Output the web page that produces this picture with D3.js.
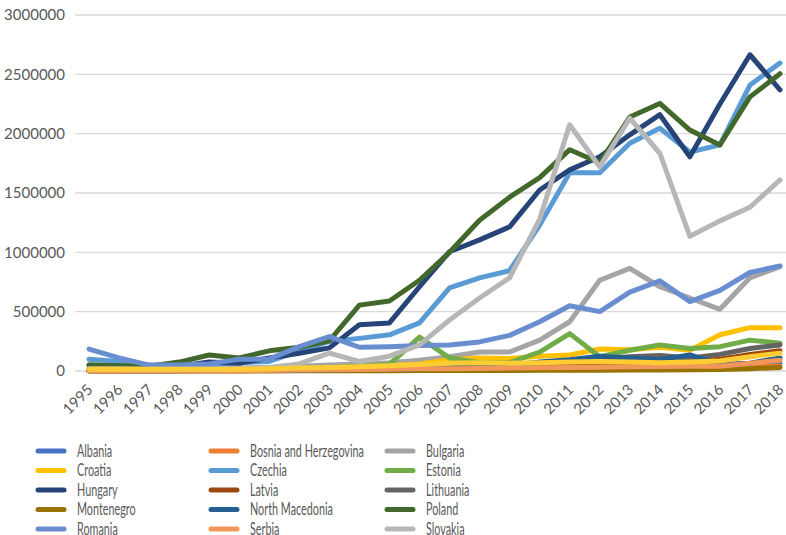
<!DOCTYPE html>
<html>
<head>
<meta charset="utf-8">
<script src="https://cdn.jsdelivr.net/npm/d3@7"></script>
<style>
  body { margin: 0; background: #fff; }
  svg { display: block; font-family: Lato, "Open Sans", sans-serif; }
  .tick-label { fill: #595959; font-size: 15px; }
  .legend-label { fill: #595959; font-size: 17px; }
</style>
</head>
<body>
<svg width="786" height="535"></svg>
<script>
// years on the category axis
const years = d3.range(1995, 2019).map(String)

// series values
const albania = [5000,5000,5000,5000,5000,5000,8000,10000,12000,15000,18000,20000,25000,30000,35000,40000,45000,50000,55000,55000,55000,55000,60000,65000]
const bosnia = [2000,2000,2000,3000,3000,3000,4000,5000,6000,8000,10000,12000,14000,16000,15000,15000,17000,18000,20000,22000,25000,30000,35000,40000]
const bulgaria = [30000,25000,20000,20000,20000,25000,30000,40000,50000,60000,70000,90000,120000,160000,160000,260000,415000,765000,865000,710000,615000,520000,785000,880000]
const croatia = [10000,10000,10000,10000,10000,10000,15000,20000,25000,35000,45000,60000,95000,110000,105000,125000,135000,185000,180000,200000,175000,305000,365000,365000]
const czechia = [100000,80000,50000,40000,50000,70000,80000,170000,250000,275000,305000,405000,700000,785000,845000,1230000,1670000,1670000,1920000,2045000,1845000,1905000,2410000,2595000]
const estonia = [10000,10000,10000,10000,10000,10000,15000,20000,30000,40000,55000,285000,110000,70000,70000,160000,315000,120000,175000,220000,190000,205000,260000,235000]
const hungary = [50000,40000,30000,40000,75000,65000,110000,150000,195000,390000,405000,710000,1005000,1105000,1215000,1525000,1695000,1805000,1990000,2160000,1805000,2250000,2665000,2370000]
const latvia = [3000,3000,3000,3000,4000,5000,6000,8000,10000,12000,15000,20000,25000,30000,30000,35000,40000,45000,60000,70000,80000,100000,140000,170000]
const lithuania = [5000,5000,5000,5000,5000,8000,10000,15000,20000,25000,30000,40000,50000,60000,60000,70000,85000,100000,120000,130000,110000,140000,190000,220000]
const montenegro = [1000,1000,1000,1000,1000,1000,1000,2000,2000,3000,3000,4000,5000,5000,5000,6000,6000,7000,8000,9000,10000,12000,20000,30000]
const northMacedonia = [5000,5000,5000,5000,5000,5000,5000,8000,10000,12000,15000,20000,30000,35000,40000,75000,95000,125000,110000,95000,135000,55000,65000,110000]
const poland = [50000,45000,40000,75000,135000,110000,170000,200000,255000,555000,590000,765000,1000000,1270000,1465000,1630000,1865000,1755000,2140000,2255000,2030000,1905000,2310000,2505000]
const romania = [185000,110000,50000,50000,60000,100000,100000,205000,290000,200000,205000,215000,220000,245000,300000,415000,550000,500000,665000,760000,585000,680000,830000,885000]
const serbia = [3000,3000,3000,3000,3000,3000,5000,8000,10000,12000,15000,18000,20000,22000,25000,28000,30000,32000,35000,38000,40000,40000,65000,90000]
const slovakia = [20000,20000,15000,15000,15000,20000,30000,60000,150000,80000,125000,220000,430000,615000,785000,1280000,2075000,1720000,2130000,1835000,1135000,1265000,1380000,1610000]
const slovenia = [15000,15000,15000,15000,15000,15000,20000,25000,30000,35000,45000,55000,65000,70000,65000,70000,75000,80000,75000,70000,75000,85000,120000,150000]

const names = ['Albania','Bosnia and Herzegovina','Bulgaria','Croatia','Czechia','Estonia','Hungary','Latvia','Lithuania','Montenegro','North Macedonia','Poland','Romania','Serbia','Slovakia','Slovenia']
const colors = ['#4472c4','#ed7d31','#a5a5a5','#ffc000','#5b9bd5','#70ad47','#264478','#9e480e','#636363','#997300','#255e91','#43682b','#698ed0','#f1975a','#b7b7b7','#ffcd33']
const seriesValues = [albania,bosnia,bulgaria,croatia,czechia,estonia,hungary,latvia,lithuania,montenegro,northMacedonia,poland,romania,serbia,slovakia,slovenia]
const yTicks = [0,500000,1000000,1500000,2000000,2500000,3000000]

const svg = d3.select('svg')

const x = d3.scalePoint().domain(years).range([89, 780])
const y = d3.scaleLinear().domain([0, 3000000]).range([371, 15])

//gridlines + y labels
const yAxis = svg.append('g')
yAxis.selectAll('line')
  .data(yTicks)
  .enter().append('line')
    .attr('x1', 75).attr('x2', 786)
    .attr('y1', d => y(d)).attr('y2', d => y(d))
    .attr('stroke', '#d9d9d9')
    .attr('stroke-width', 1.3)
yAxis.selectAll('text')
  .data(yTicks)
  .enter().append('text')
    .attr('class', 'tick-label')
    .attr('x', 65)
    .attr('y', d => y(d))
    .attr('dy', '0.35em')
    .attr('text-anchor', 'end')
    .text(d => d)

//x labels, rotated
svg.append('g').selectAll('text')
  .data(years)
  .enter().append('text')
    .attr('class', 'tick-label')
    .attr('text-anchor', 'end')
    .attr('transform', d => `translate(${x(d) + 1},${387}) rotate(-45)`)
    .attr('dy', '0.35em')
    .text(d => d)

//lines
const line = d3.line()
  .x((d, i) => x(years[i]))
  .y(d => y(d))

svg.append('g').selectAll('path')
  .data(seriesValues)
  .enter().append('path')
    .attr('d', line)
    .attr('fill', 'none')
    .attr('stroke', (d, i) => colors[i])
    .attr('stroke-width', 5)
    .attr('stroke-linejoin', 'round')
    .attr('stroke-linecap', 'round')

//legend, three columns filled row by row
const colX = [38, 211, 387]
const legend = svg.append('g').selectAll('g')
  .data(names)
  .enter().append('g')
    .attr('transform', (d, i) => `translate(${colX[i % 3]},${451 + Math.floor(i / 3) * 19.5})`)
legend.append('line')
  .attr('x1', 0).attr('x2', 26)
  .attr('stroke', (d, i) => colors[i])
  .attr('stroke-width', 5)
  .attr('stroke-linecap', 'round')
const labels = legend.append('text')
  .attr('class', 'legend-label')
  .attr('dy', '0.35em')
  .text(d => d)

// squeeze the labels so they are as narrow as the condensed font in the picture
const widest = labels.filter(d => d === 'Bosnia and Herzegovina').node().getComputedTextLength()
const sx = 114 / widest
labels.attr('transform', `translate(39,0) scale(${sx},1)`)
</script>
</body>
</html>
